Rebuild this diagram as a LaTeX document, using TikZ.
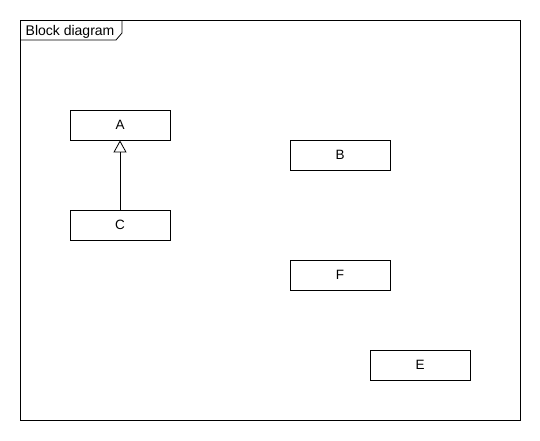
\documentclass[tikz,border=0pt]{standalone}
\usepackage{fontspec}
\setmainfont{Liberation Sans}
\usetikzlibrary{arrows.meta}
\begin{document}
\begin{tikzpicture}[x=1pt,y=-1pt,
  blk/.style={draw=black, line width=0.8pt, minimum width=100pt, minimum height=30pt, inner sep=0pt, font=\fontsize{13.5}{16}\selectfont},
  gen/.style={draw=black, line width=0.8pt, -{Triangle[open,length=12pt,width=13pt]}}]
\useasboundingbox (0,0) rectangle (540,440);
\fill[white] (0,0) rectangle (540,440);
\draw[line width=0.8pt] (20,20) rectangle (520,420);
\draw[line width=0.8pt] (20,40) -- (116,40) -- (122,33) -- (122,20);
\node[anchor=base west, font=\fontsize{14}{16}\selectfont, inner sep=0pt] (title) at (25.5,35) {Block diagram};
\node[blk] (A) at (120,125) {A};
\node[blk] (C) at (120,225) {C};
\node[blk] (B) at (340,155) {B};
\node[blk] (F) at (340,275) {F};
\node[blk] (E) at (420,365) {E};
\draw[gen] (C.north) -- (A.south);
\end{tikzpicture}
\end{document}
